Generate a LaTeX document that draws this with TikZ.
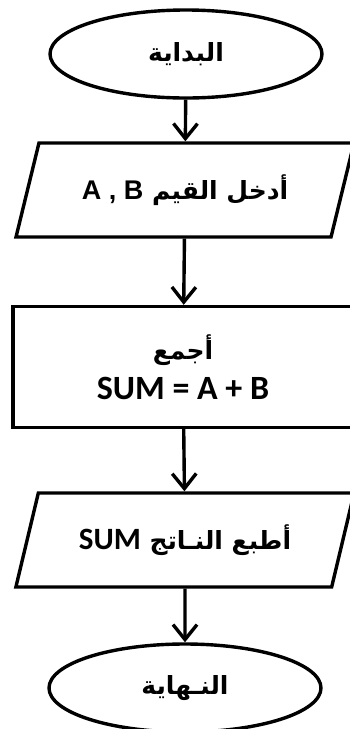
\documentclass[tikz,border=0pt]{standalone}
\usepackage{fontspec}
\setmainfont{Liberation Sans}
\newfontfamily\arabicfont[Script=Arabic]{DejaVu Sans}
\newfontfamily\calibrifont{Carlito}
\TeXXeTstate=1
\usepackage{tikz}
\usetikzlibrary{shapes.geometric, arrows.meta}

\begin{document}
\begin{tikzpicture}[x=1pt, y=-1pt, line width=3.4pt,
    >={Straight Barb[length=15pt, width=24pt]},
    terminal/.style={ellipse, draw, minimum width=272pt, minimum height=88pt,
        font=\fontsize{25}{30}\selectfont\bfseries\arabicfont},
    iobox/.style={trapezium, trapezium left angle=66, trapezium right angle=114,
        trapezium stretches=true, draw, minimum width=339pt, minimum height=94pt,
        font=\fontsize{25}{30}\selectfont\bfseries},
    procbox/.style={rectangle, draw, minimum width=340pt, minimum height=121pt,
        align=center, font=\fontsize{25}{30}\selectfont\bfseries}]
    \useasboundingbox (0,0) rectangle (349,729);

    % 1. Các khối
    \node[terminal] (start) at (186,54) {\beginR البداية\endR};
    \node[iobox] (input) at (185,190)
        {\arabicfont\beginR أدخل القيم \beginL\normalfont\bfseries\fontsize{27}{30}\selectfont A , B\endL\endR};
    \node[procbox] (sum) at (183,367)
        {{\arabicfont\beginR أجمع\endR}\\[10pt]{\calibrifont\fontsize{34}{38}\selectfont SUM = A + B}};
    \node[iobox] (output) at (185,540)
        {\arabicfont\beginR أطبع النـاتج \beginL\calibrifont\fontsize{31}{34}\selectfont SUM\endL\endR};
    \node[terminal] (stop) at (185,688) {\beginR النـهاية\endR};

    % 2. Mũi tên
    \draw[->] (start) -- (input);
    \draw[->] (input) -- (sum);
    \draw[->] (sum) -- (output);
    \draw[->] (output) -- (stop);
\end{tikzpicture}
\end{document}
